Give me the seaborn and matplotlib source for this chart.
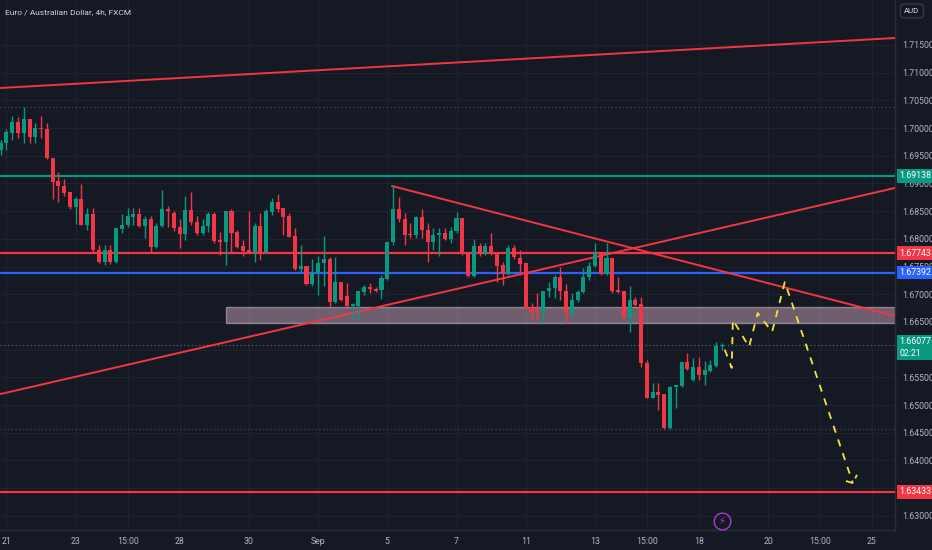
import matplotlib
matplotlib.use('Agg')
import matplotlib.pyplot as plt
import matplotlib.transforms as mtransforms
from matplotlib import font_manager as fm
from matplotlib.textpath import TextPath
from matplotlib.patches import Rectangle
import numpy as np
import seaborn as sns

# EUR/AUD 4h candles (Aug 21 -> Sep 18)
opens = [
    1.69605, 1.69731, 1.69911, 1.70110, 1.69911, 1.70164, 1.69839, 1.70002, 1.69984, 1.69460,
    1.69045, 1.68955, 1.68846, 1.68576, 1.68720, 1.68251, 1.68450, 1.67800, 1.67583, 1.67800,
    1.67583, 1.68179, 1.68251, 1.68396, 1.68450, 1.68233, 1.68359, 1.67854, 1.68233, 1.68540,
    1.68468, 1.68215, 1.68089, 1.68522, 1.68305, 1.68107, 1.68233, 1.68450, 1.67980, 1.67944,
    1.68504, 1.68125, 1.67872, 1.67800, 1.67764, 1.68233, 1.67764, 1.68486, 1.68666, 1.68558,
    1.68414, 1.68053, 1.67457, 1.67511, 1.67186, 1.67385, 1.67565, 1.67637, 1.66861, 1.67222,
    1.66970, 1.66789, 1.66789, 1.67042, 1.67132, 1.67096, 1.67078, 1.67276, 1.67944, 1.68540,
    1.68359, 1.68089, 1.68071, 1.68396, 1.68161, 1.67944, 1.68071, 1.68107, 1.67998, 1.68143,
    1.68377, 1.67746, 1.67331, 1.67872, 1.67728, 1.67872, 1.67746, 1.67529, 1.67367, 1.67836,
    1.67656, 1.67565, 1.66771, 1.66717, 1.66681, 1.67060, 1.67114, 1.67313, 1.67060, 1.66663,
    1.66897, 1.67042, 1.67313, 1.67511, 1.67746, 1.67367, 1.67656, 1.67078, 1.67060, 1.66573,
    1.66897, 1.66825, 1.65760, 1.65128, 1.65236, 1.65200, 1.64587, 1.65327, 1.65345, 1.65778,
    1.65453, 1.65688, 1.65544, 1.65616, 1.65706, 1.66067]
highs = [
    1.69785, 1.69984, 1.70218, 1.70200, 1.70381, 1.70164, 1.70092, 1.70218, 1.70092, 1.69460,
    1.69207, 1.69081, 1.68846, 1.68756, 1.68991, 1.68558, 1.68558, 1.67890, 1.67890, 1.67890,
    1.68197, 1.68450, 1.68558, 1.68558, 1.68558, 1.68414, 1.68414, 1.68287, 1.68883, 1.68594,
    1.68504, 1.68359, 1.68774, 1.68846, 1.68414, 1.68359, 1.68486, 1.68486, 1.68125, 1.68504,
    1.68540, 1.68161, 1.67980, 1.68504, 1.68287, 1.68468, 1.68540, 1.68738, 1.68810, 1.68558,
    1.68468, 1.68197, 1.67890, 1.67511, 1.67637, 1.67692, 1.68053, 1.67674, 1.67674, 1.67222,
    1.67204, 1.66843, 1.67060, 1.67168, 1.67204, 1.67132, 1.67349, 1.67944, 1.68955, 1.68756,
    1.68468, 1.68287, 1.68414, 1.68540, 1.68287, 1.68197, 1.68197, 1.68197, 1.68215, 1.68486,
    1.68377, 1.67764, 1.67998, 1.67926, 1.67926, 1.68107, 1.67746, 1.67583, 1.67890, 1.67890,
    1.67800, 1.67565, 1.66843, 1.67024, 1.67060, 1.67222, 1.67349, 1.67493, 1.67186, 1.67024,
    1.67078, 1.67475, 1.67583, 1.67926, 1.67764, 1.67926, 1.67656, 1.67313, 1.67060, 1.67150,
    1.66952, 1.66952, 1.65814, 1.65399, 1.65399, 1.65200, 1.65345, 1.65363, 1.65778, 1.65940,
    1.65850, 1.65868, 1.65796, 1.65814, 1.66139, 1.66121]
lows = [
    1.69515, 1.69605, 1.69785, 1.69821, 1.69731, 1.69731, 1.69731, 1.69821, 1.69442, 1.68720,
    1.68666, 1.68774, 1.68540, 1.68269, 1.68251, 1.68161, 1.67764, 1.67565, 1.67529, 1.67547,
    1.67565, 1.68107, 1.68215, 1.68251, 1.68215, 1.68017, 1.67764, 1.67836, 1.68215, 1.68215,
    1.68143, 1.67836, 1.67980, 1.68251, 1.68071, 1.68071, 1.68125, 1.67926, 1.67710, 1.67529,
    1.67764, 1.67836, 1.67692, 1.67746, 1.67583, 1.67619, 1.67746, 1.68432, 1.68486, 1.68071,
    1.68035, 1.67439, 1.67403, 1.67168, 1.67150, 1.66988, 1.67150, 1.66771, 1.66843, 1.66879,
    1.66771, 1.66536, 1.66536, 1.66988, 1.67024, 1.67042, 1.66915, 1.67258, 1.67890, 1.68305,
    1.67890, 1.68017, 1.68017, 1.68017, 1.67583, 1.67800, 1.67692, 1.67980, 1.67926, 1.68107,
    1.67710, 1.67313, 1.67313, 1.67692, 1.67710, 1.67710, 1.67222, 1.67168, 1.67349, 1.67637,
    1.67349, 1.66753, 1.66554, 1.66536, 1.66482, 1.66952, 1.66934, 1.66897, 1.66482, 1.66627,
    1.66861, 1.67024, 1.67258, 1.67493, 1.67349, 1.67349, 1.67024, 1.67024, 1.66573, 1.66320,
    1.66789, 1.65688, 1.65128, 1.65128, 1.64912, 1.64569, 1.64569, 1.64948, 1.65327, 1.65634,
    1.65435, 1.65453, 1.65363, 1.65598, 1.65688, 1.65994]
closes = [
    1.69731, 1.69929, 1.70110, 1.69911, 1.70164, 1.69839, 1.70002, 1.69984, 1.69460, 1.69027,
    1.68955, 1.68828, 1.68576, 1.68720, 1.68251, 1.68450, 1.67800, 1.67583, 1.67800, 1.67583,
    1.68197, 1.68251, 1.68414, 1.68450, 1.68233, 1.68359, 1.67854, 1.68233, 1.68540, 1.68504,
    1.68197, 1.68089, 1.68522, 1.68305, 1.68107, 1.68233, 1.68450, 1.67962, 1.67944, 1.68504,
    1.68107, 1.67854, 1.67782, 1.67764, 1.68233, 1.67764, 1.68504, 1.68666, 1.68540, 1.68396,
    1.68035, 1.67457, 1.67511, 1.67186, 1.67385, 1.67565, 1.67637, 1.66861, 1.67222, 1.66897,
    1.66789, 1.66825, 1.67060, 1.67132, 1.67096, 1.67060, 1.67295, 1.67944, 1.68540, 1.68359,
    1.68071, 1.68071, 1.68396, 1.68161, 1.67944, 1.68071, 1.68107, 1.67998, 1.68143, 1.68377,
    1.67764, 1.67331, 1.67872, 1.67728, 1.67872, 1.67746, 1.67511, 1.67367, 1.67836, 1.67674,
    1.67547, 1.66753, 1.66681, 1.66699, 1.67060, 1.67114, 1.67313, 1.67060, 1.66663, 1.66897,
    1.67042, 1.67313, 1.67511, 1.67746, 1.67367, 1.67656, 1.67060, 1.67042, 1.66573, 1.66897,
    1.66807, 1.65760, 1.65128, 1.65236, 1.65182, 1.64587, 1.65327, 1.65363, 1.65778, 1.65652,
    1.65688, 1.65544, 1.65634, 1.65724, 1.66067, 1.66077]

# date axis (bar index of each label)
xtick_pos = [1, 13, 22, 31, 43, 55, 67, 79, 91, 103, 112, 121, 133, 142, 151]
xtick_labels = ['21', '23', '15:00', '28', '30', 'Sep', '5', '7', '11', '13',
                '15:00', '18', '20', '15:00', '25']
price_ticks = np.round(np.arange(1.630, 1.7151, 0.005), 3)

# drawn levels
level_prices = [1.69138, 1.67743, 1.67392, 1.63433]
level_colors = ['#089981', '#f23645', '#2962ff', '#f23645']
last_price = 1.66077
last_timer = '02:21'
range_high, range_low = 1.70381, 1.64569
zone_start, zone_low, zone_high = 39.05, 1.6648, 1.6677

# trend lines (bar index, price)
top_line = ([0, 155], [1.70724, 1.71626])
down_line = ([67.8, 155], [1.68955, 1.66609])
up_line = ([0, 155], [1.65200, 1.68919])

# projected path
proj_x = [125.5, 126.7, 126.9, 129.7, 131.2, 133.7, 135.9, 147.7]
proj_y = [1.6600, 1.6567, 1.6654, 1.6605, 1.6666, 1.6632, 1.6722, 1.6359]
head_x = [146.5, 147.7, 148.4]
head_y = [1.6363, 1.6359, 1.6374]

BG = '#151924'
GREEN = '#089981'
RED = '#f23645'
TXT = '#b2b5be'
GRID = '#1f2330'

sns.set_theme(style='dark', rc={'axes.facecolor': BG, 'figure.facecolor': BG})

# pick a narrow face if there is one, and size text so a price label fills the scale
have = {f.name for f in fm.fontManager.ttflist}
face = next((n for n in ['Liberation Sans Narrow', 'Roboto', 'Liberation Sans'] if n in have),
            'DejaVu Sans')
plt.rcParams['font.family'] = [face, 'DejaVu Sans']
w10 = TextPath((0, 0), '1.71500', size=10, prop=fm.FontProperties(family=face)).get_extents().width
FS = min(8.0, 222.0 / w10)
TS = (202.0 / w10 + 0.6) * 0.95

fig = plt.figure(figsize=(9.32, 5.5), dpi=100)
ax = fig.add_axes([0, 20 / 550, 895 / 932, 530 / 550])

o = np.array(opens); h = np.array(highs); l = np.array(lows); c = np.array(closes)
idx = np.arange(len(c))
cols = np.where(c >= o, GREEN, RED)
ax.vlines(idx, l, h, colors=cols, lw=1, zorder=4)
ax.bar(idx, np.maximum(np.abs(c - o), 0.00012), bottom=np.minimum(o, c),
       width=0.7, color=cols, linewidth=0, zorder=5)

# zone
ax.add_patch(Rectangle((zone_start, zone_low), 200, zone_high - zone_low,
                       facecolor='#c9a6b8', alpha=0.5, edgecolor='#e0c4d2', lw=1, zorder=2))

# horizontal levels
for p, col in zip(level_prices, level_colors):
    ax.axhline(p, color=col, lw=1.6, zorder=3)
ax.axhline(last_price, color='#4f6a66', lw=0.9, ls=(0, (1, 2)), zorder=3)
for p in (range_high, range_low):
    ax.axhline(p, color='#434856', lw=0.9, ls=(0, (1, 2)), zorder=1)

for xs, ys in (top_line, down_line, up_line):
    ax.plot(xs, ys, color='#f23645', lw=1.4, zorder=3)

sns.lineplot(x=proj_x, y=proj_y, sort=False, ax=ax, color='#f5e43a', lw=1.3, zorder=6)
ax.lines[-1].set_dashes([4, 4])
sns.lineplot(x=head_x, y=head_y, sort=False, ax=ax, color='#f5e43a', lw=1.3, zorder=6)
ax.lines[-1].set_dashes([4, 3])

ax.set_xlim(-0.12, 155.0)
ax.set_ylim(1.62745, 1.72312)

ax.yaxis.tick_right()
ax.set_yticks(price_ticks)
ax.set_yticklabels([f'{p:.5f}' for p in price_ticks])
ax.set_xticks(xtick_pos)
ax.set_xticklabels(xtick_labels)
ax.tick_params(axis='y', length=0, pad=5, labelcolor=TXT, labelsize=FS)
ax.tick_params(axis='x', length=0, pad=5, labelcolor=TXT, labelsize=FS)
ax.grid(True, color=GRID, lw=0.8)
ax.set_axisbelow(True)
for side, sp in ax.spines.items():
    sp.set_visible(side in ('right', 'bottom'))
    sp.set_color('#2a2e39')
    sp.set_linewidth(1)

# price badges on the scale
trans = mtransforms.blended_transform_factory(ax.transAxes, ax.transData)
for p, col in zip(level_prices, level_colors):
    ax.text(1.0045, p, f'{p:.5f}', transform=trans, ha='left', va='center', color='white',
            fontsize=FS, clip_on=False, zorder=10,
            bbox=dict(boxstyle='square,pad=0.25', fc=col, ec='none'))
ax.text(1.0045, last_price - 0.0004, f'{last_price:.5f}\n{last_timer}', transform=trans,
        ha='left', va='center', color='white', fontsize=FS, linespacing=1.35,
        clip_on=False, zorder=10, bbox=dict(boxstyle='square,pad=0.25', fc=GREEN, ec='none'))

fig.text(5 / 932, 1 - 12 / 550, 'Euro / Australian Dollar, 4h, FXCM', color='#d1d4dc',
         fontsize=TS, va='center')
fig.text(912 / 932, 1 - 11 / 550, 'AUD', ha='center', va='center', fontsize=FS * 0.9,
         color='#d1d4dc', bbox=dict(boxstyle='round,pad=0.5', fc=BG, ec='#363a45'))

# event marker
ax.plot([0.8067], [0.017], transform=ax.transAxes, marker='o', ms=12, mfc='none',
        mec='#a43fc9', mew=1, clip_on=False, zorder=7)
ax.text(0.8067, 0.017, '\u26a1', transform=ax.transAxes, ha='center', va='center',
        color='#a43fc9', fontsize=7, family='DejaVu Sans', zorder=8)

fig.savefig('out.png', dpi=100, facecolor=BG)
